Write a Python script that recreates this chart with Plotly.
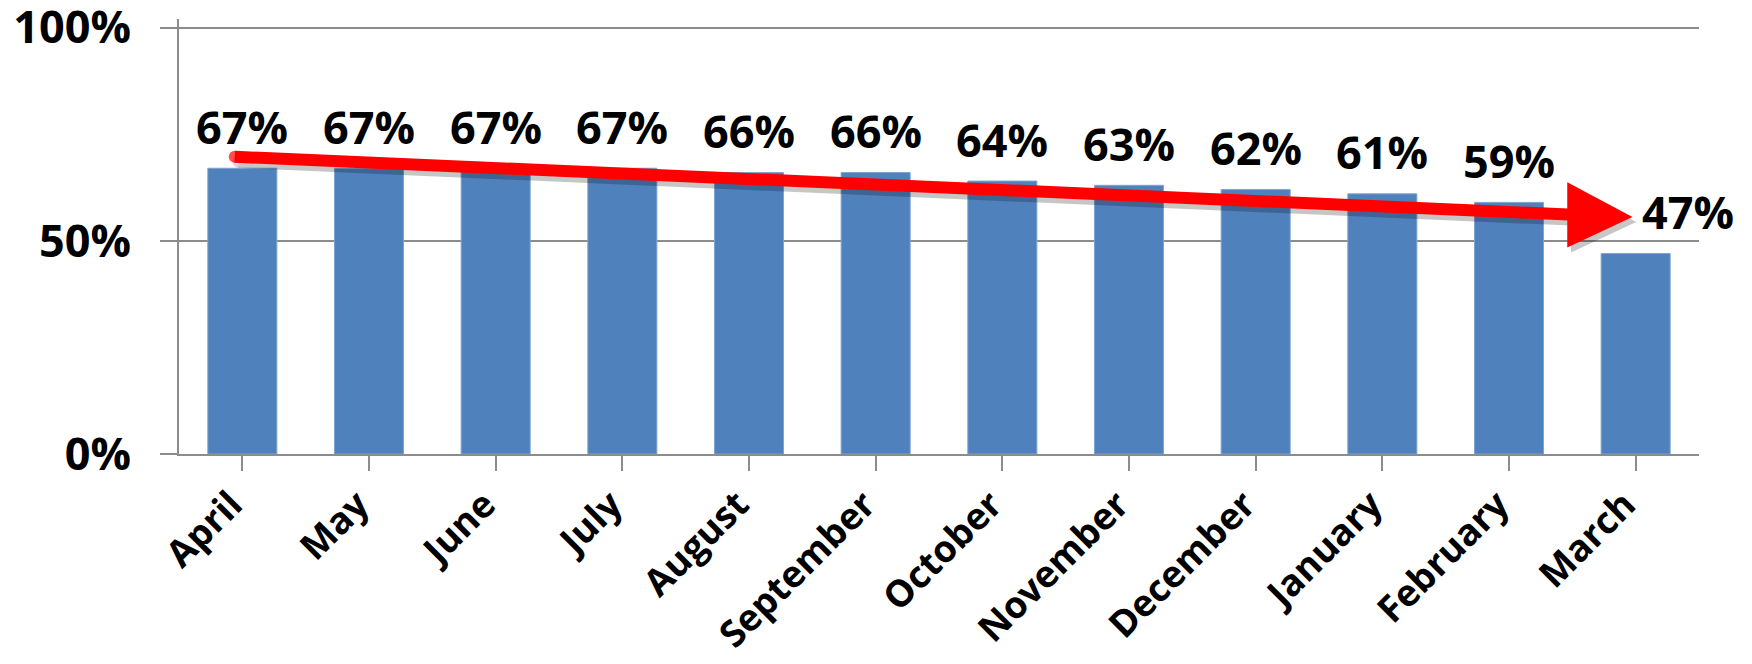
import plotly.graph_objects as go

months = ["April", "May", "June", "July", "August", "September", "October",
          "November", "December", "January", "February", "March"]
values = [0.67, 0.67, 0.67, 0.67, 0.66, 0.66, 0.64, 0.63, 0.62, 0.61, 0.59, 0.47]
y_ticks = [0, 0.5, 1.0]
y_tick_labels = ["0%", "50%", "100%"]

# decorative trend arrow (category index, fraction)
arrow_tail = (-0.06, 0.697)
arrow_head_base = (10.46, 0.561)
arrow_tip = (10.975, 0.556)
arrow_head_half = 0.0765

BAR = "#4F81BD"
GRID = "#8C8C8C"
FONT = "Open Sans"

fig = go.Figure()
fig.add_trace(go.Bar(
    x=list(range(len(months))), y=values,
    marker=dict(color=BAR, line=dict(color="#7FA3D0", width=1)),
    width=0.545, hoverinfo="skip", showlegend=False,
))

def arrow_traces(dx, dy, color, opacity):
    tx, ty = arrow_tail[0] + dx, arrow_tail[1] + dy
    bx, by = arrow_head_base[0] + dx, arrow_head_base[1] + dy
    px, py = arrow_tip[0] + dx, arrow_tip[1] + dy
    return [
        go.Scatter(x=[tx, bx + 0.05], y=[ty, by], mode="lines+markers",
                   line=dict(color=color, width=12),
                   marker=dict(size=[12, 0], color=color, line=dict(width=0)),
                   opacity=opacity, hoverinfo="skip", showlegend=False),
        go.Scatter(x=[bx, px, bx, bx], y=[by + arrow_head_half, py, by - arrow_head_half, by + arrow_head_half],
                   mode="lines", fill="toself", fillcolor=color,
                   line=dict(color=color, width=0), opacity=opacity,
                   hoverinfo="skip", showlegend=False),
    ]

for t in arrow_traces(0.03, -0.012, "#000000", 0.22):
    fig.add_trace(t)
for t in arrow_traces(0, 0, "#FF0000", 1.0):
    fig.add_trace(t)

annotations = []
for i, (m, v) in enumerate(zip(months, values)):
    last = i == len(months) - 1
    annotations.append(dict(
        x=i, y=v, xref="x", yref="y", text=f"{round(v*100)}%",
        showarrow=False, yanchor="middle", xanchor="center",
        yshift=42, xshift=52 if last else 0,
        font=dict(family=FONT, size=45, color="#000000", weight="bold"),
    ))

# page body has a default 8px margin, so the figure is 8px smaller and margins shifted
fig.update_layout(
    width=1744, height=656,
    margin=dict(l=171, r=53, t=11, b=210),
    paper_bgcolor="white", plot_bgcolor="white",
    bargap=0.455,
    annotations=annotations,
    xaxis=dict(
        range=[-0.5, 11.5], tickmode="array",
        tickvals=list(range(len(months))), ticktext=months,
        tickangle=-45, showline=True, linecolor=GRID, linewidth=2,
        ticks="outside", tickson="boundaries", ticklen=15, tickwidth=2, tickcolor=GRID,
        showgrid=False, zeroline=False, automargin=False,
        ticklabelshift=-11, ticklabelstandoff=-3,
        tickfont=dict(family=FONT, size=37, color="#000000", weight="bold"),
    ),
    yaxis=dict(
        range=[0, 1.02], tickmode="array", tickvals=y_ticks, ticktext=y_tick_labels,
        showline=True, linecolor=GRID, linewidth=2,
        ticks="outside", ticklen=17, tickwidth=2, tickcolor=GRID,
        showgrid=True, gridcolor=GRID, gridwidth=2, zeroline=False,
        ticklabelstandoff=20, automargin=False, ticklabeloverflow="allow",
        tickfont=dict(family=FONT, size=45, color="#000000", weight="bold"),
    ),
)

fig.write_html("out.html")
